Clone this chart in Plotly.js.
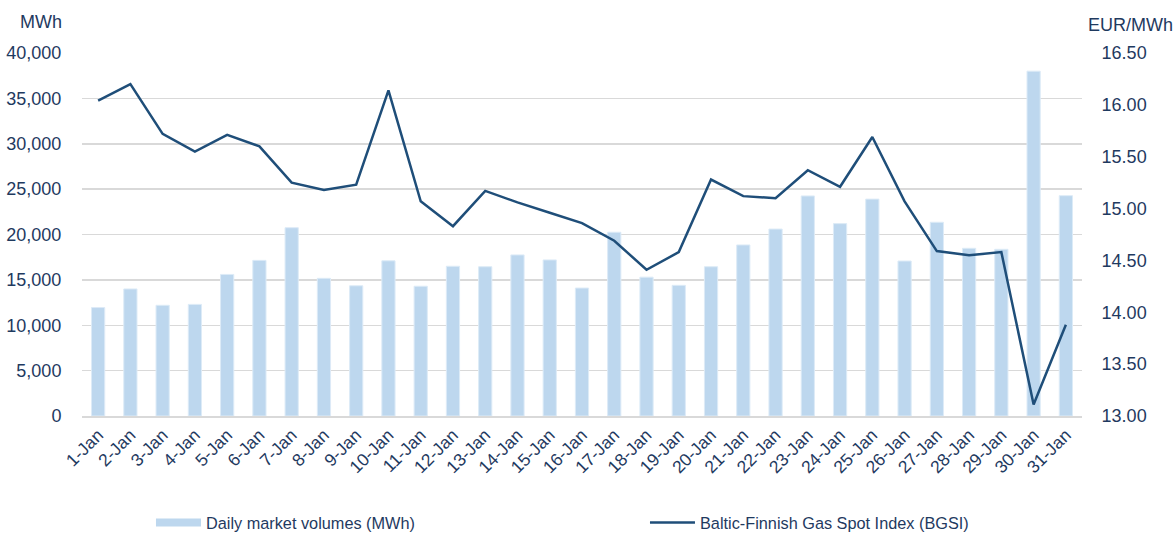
<!DOCTYPE html>
<html>
<head>
<meta charset="utf-8">
<script src="https://cdn.plot.ly/plotly-3.0.1.min.js"></script>
<style>html,body{margin:0;padding:0;background:#fff;}#chart{width:1174px;height:533px;}</style>
</head>
<body>
<div id="chart"></div>
<script>
const days = ["1-Jan","2-Jan","3-Jan","4-Jan","5-Jan","6-Jan","7-Jan","8-Jan","9-Jan","10-Jan","11-Jan","12-Jan","13-Jan","14-Jan","15-Jan","16-Jan","17-Jan","18-Jan","19-Jan","20-Jan","21-Jan","22-Jan","23-Jan","24-Jan","25-Jan","26-Jan","27-Jan","28-Jan","29-Jan","30-Jan","31-Jan"];
const volumes = [11950,14000,12200,12300,15600,17150,20750,15170,14350,17100,14300,16500,16450,17750,17200,14100,20250,15300,14400,16450,18850,20600,24250,21200,23900,17080,21350,18480,18370,38000,24280];
const bgsi = [16.04,16.20,15.72,15.55,15.71,15.60,15.25,15.18,15.23,16.14,15.07,14.83,15.17,15.06,14.96,14.86,14.69,14.41,14.58,15.28,15.12,15.10,15.37,15.21,15.69,15.07,14.59,14.55,14.58,13.11,13.88];
const leftTicks = [0,5000,10000,15000,20000,25000,30000,35000,40000];
const leftTickText = ["0","5,000","10,000","15,000","20,000","25,000","30,000","35,000","40,000"];
const rightTicks = [13.0,13.5,14.0,14.5,15.0,15.5,16.0,16.5];
const rightTickText = ["13.00","13.50","14.00","14.50","15.00","15.50","16.00","16.50"];
const seriesNames = ["Daily market volumes (MWh)","Baltic-Finnish Gas Spot Index (BGSI)"];

const textColor = "#1F3A5F";
const font = "Liberation Sans, Arial, sans-serif";
const clear = "rgba(0,0,0,0)";
const barColor = "#BDD7EE";

const traces = [
  {type:"bar", x:days, y:volumes, name:seriesNames[0], showlegend:false, marker:{color:barColor, line:{color:"#DDEBF7", width:1}}, yaxis:"y"},
  // legend-only entry so the bar series gets a wide swatch like the original
  {type:"scatter", mode:"lines", x:[null], y:[null], name:seriesNames[0], line:{color:barColor, width:8}, yaxis:"y"},
  {type:"scatter", mode:"lines", x:days, y:bgsi, name:seriesNames[1], line:{color:"#1F4E79", width:2.5}, yaxis:"y2"}
];

const layout = {
  width:1174, height:533,
  margin:{l:82, r:92, t:53, b:117},
  paper_bgcolor:"#fff", plot_bgcolor:"#fff",
  font:{family:font, color:textColor, size:17},
  bargap:0.59,
  showlegend:true,
  legend:{orientation:"h", xref:"container", yref:"container", x:0.1286, y:0.019, yanchor:"middle", xanchor:"left", entrywidth:434, entrywidthmode:"pixels", font:{size:16.3, color:textColor}, itemwidth:45},
  xaxis:{type:"category", tickangle:-45, showgrid:false, showline:true, linecolor:"#D9D9D9", linewidth:2, ticks:"", tickfont:{size:17.5, color:textColor}, automargin:false, fixedrange:true},
  yaxis:{range:[0,40000], tickvals:leftTicks, ticktext:leftTickText, showgrid:true, gridcolor:"#D9D9D9", gridwidth:1.5, zeroline:false, showline:false, ticks:"outside", ticklen:16, tickcolor:clear, tickfont:{size:18, color:textColor}, automargin:false},
  yaxis2:{range:[13,16.5], overlaying:"y", side:"right", tickvals:rightTicks, ticktext:rightTickText, showgrid:false, zeroline:false, showline:false, ticks:"outside", ticklen:15, tickcolor:clear, tickfont:{size:18, color:textColor}, automargin:false},
  annotations:[
    {xref:"paper", yref:"paper", x:-0.064, y:1.0, xanchor:"left", yanchor:"middle", yshift:31, text:"MWh", showarrow:false, font:{size:18, color:textColor}},
    {xref:"paper", yref:"paper", x:1.004, y:1.0, xanchor:"left", yanchor:"middle", yshift:28, text:"EUR/MWh", showarrow:false, font:{size:18, color:textColor}}
  ]
};

Plotly.newPlot("chart", traces, layout, {displayModeBar:false, staticPlot:true});
</script>
</body>
</html>
